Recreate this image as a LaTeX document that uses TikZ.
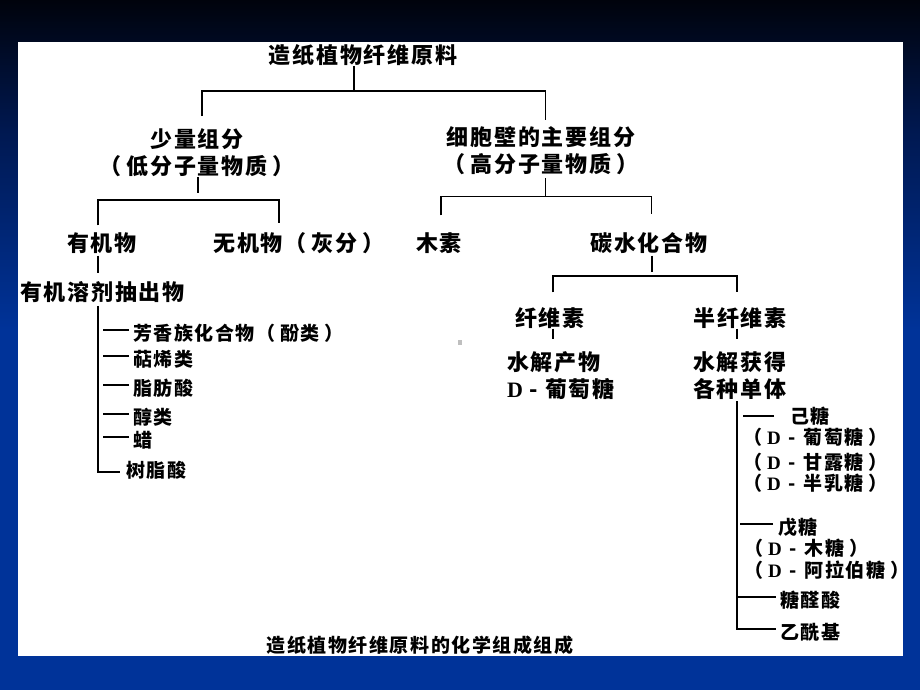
\documentclass[tikz,border=0pt]{standalone}
\usepackage{fontspec}
\newfontfamily\cjk[LetterSpace=8]{Noto Sans CJK SC}
\newfontfamily\lat{Liberation Serif}
\usetikzlibrary{calc}
\definecolor{navy}{HTML}{003399}
\definecolor{deep}{HTML}{00030C}
\definecolor{mid}{HTML}{001850}
\tikzset{
  big/.style={font=\cjk\bfseries\fontsize{22}{27}\selectfont, inner sep=0pt, align=center},
  sm/.style={font=\cjk\bfseries\fontsize{19}{23}\selectfont, inner sep=0pt, anchor=west},
  ln/.style={line width=1.3pt, black}
}
\newcommand{\DD}{{\lat\bfseries D}}
\newcommand{\lp}{（\kern5pt}
\newcommand{\rp}{\kern5pt）}
\newcommand{\dsh}{\kern2pt{} - \kern2pt{}}
\begin{document}
\begin{tikzpicture}[x=1pt,y=-1pt]
\useasboundingbox (0,0) rectangle (920,690);
% background
\shade[top color=deep, bottom color=mid] (0,0) rectangle (920,130);
\shade[top color=mid, bottom color=navy] (0,129) rectangle (920,330);
\fill[navy] (0,329) rectangle (920,690);
\fill[white] (18,42) rectangle (903,656);
\fill[gray!50] (458,340) rectangle (462,345);

% nodes
\node[big] (title) at (363,55) {造纸植物纤维原料};
\node[big] (low) at (197,152.5) {少量组分\\\lp 低分子量物质\rp};
\node[big] (high) at (541,151) {细胞壁的主要组分\\\lp 高分子量物质\rp};
\node[big] (org) at (102,243) {有机物};
\node[big] (inorg) at (299,243) {无机物\lp 灰分\rp};
\node[big] (ext) at (102.5,292) {有机溶剂抽出物};
\node[big] (lignin) at (439,243) {木素};
\node[big] (carb) at (649,243) {碳水化合物};
\node[big] (cell) at (550,318) {纤维素};
\node[big] (hemi) at (740,318) {半纤维素};
\node[big, align=left, anchor=west] (hyd1) at (507,376) {水解产物\\\DD{} - 葡萄糖};
\node[big, align=left, anchor=west] (hyd2) at (693,376) {水解获得\\各种单体};

\node[sm] (a1) at (133,333) {芳香族化合物\lp 酚类\rp};
\node[sm] (a2) at (133,359) {萜烯类};
\node[sm] (a3) at (133,388) {脂肪酸};
\node[sm] (a4) at (133,417) {醇类};
\node[sm] (a5) at (133,440) {蜡};
\node[sm] (a6) at (126,470) {树脂酸};

\node[sm] (hexose) at (790,416) {己糖};
\node[sm] (b1) at (743,437) {\lp\DD\dsh 葡萄糖\rp};
\node[sm] (b2) at (743,462) {\lp\DD\dsh 甘露糖\rp};
\node[sm] (b3) at (743,483) {\lp\DD\dsh 半乳糖\rp};
\node[sm] (pentose) at (778,527) {戊糖};
\node[sm] (c1) at (744,548) {\lp\DD\dsh 木糖\rp};
\node[sm] (c2) at (744,570) {\lp\DD\dsh 阿拉伯糖\rp};
\node[sm] (uronic) at (780,600) {糖醛酸};
\node[sm] (acetyl) at (780,632) {乙酰基};

\node[sm, anchor=center] (caption) at (420,645) {造纸植物纤维原料的化学组成组成};

% junction coordinates
\coordinate (j0) at (354,91);
\coordinate (jl) at (202,91);
\coordinate (jr) at (545.7,91);
\coordinate (k0) at (198,193);
\coordinate (kl) at (98,200);
\coordinate (kr) at (279,200);
\coordinate (m0) at (545.7,196.7);
\coordinate (ml) at (441,196.7);
\coordinate (mr) at (651.7,196.7);
\coordinate (n0) at (652,272);
\coordinate (nl) at (553,276);
\coordinate (nr) at (737,276);
\coordinate (q) at (737,629);
\coordinate (v1) at (98,472);

% connectors
\draw[ln] (title.south -| j0) -- (j0);
\draw[ln] ($(jl |- low.north)+(0,-12)$) -- (jl) -- (jr) -- ($(jr |- high.north)+(0,-7)$);
\draw[ln] (low.south -| k0) -- (k0);
\draw[ln] ($(kl |- org.north)+(0,-7)$) -- (kl) -- (kr) -- ($(kr |- inorg.north)+(0,-9)$);
\draw[ln] ($(high.south -| m0)+(0,3)$) -- (m0);
\draw[ln] ($(ml |- lignin.north)+(0,-17)$) -- (ml) -- (mr) -- ($(mr |- carb.north)+(0,-18)$);
\draw[ln] ($(carb.south -| n0)+(0,2)$) -- (n0);
\draw[ln] ($(nl |- cell.north)+(0,-15)$) -- (nl) -- (nr) -- ($(nr |- hemi.north)+(0,-15)$);
\draw[ln] (cell.south -| nl) -- ($(nl |- hyd1.north)+(0,-13)$);
\draw[ln] (hemi.south -| nr) -- ($(nr |- hyd2.north)+(0,-13)$);

% left list
\draw[ln] ($(org.south -| v1)+(0,2)$) -- ($(v1 |- ext.north)+(0,-8)$);
\draw[ln] ($(ext.south -| v1)+(0,3)$) -- (v1) -- ($(v1 -| a6.west)+(-6,0)$);
\foreach \n in {a1,a2,a3,a4,a5}
  \draw[ln] ($(\n.west)+(-4,-3)$) -- ($(v1 |- \n.west)+(5,-3)$);

% right list
\draw[ln] ($(hyd2.south -| q)+(0,1)$) -- (q) -- ($(q -| acetyl.west)+(-4,0)$);
\draw[ln] ($(hexose.west)+(-16,0)$) -- ($(q |- hexose.west)+(6,0)$);
\draw[ln] ($(pentose.west)+(-5,-3)$) -- ($(q |- pentose.west)+(3,-3)$);
\draw[ln] ($(q |- uronic.west)+(0,-3)$) -- ($(uronic.west)+(-4,-3)$);
\end{tikzpicture}
\end{document}
